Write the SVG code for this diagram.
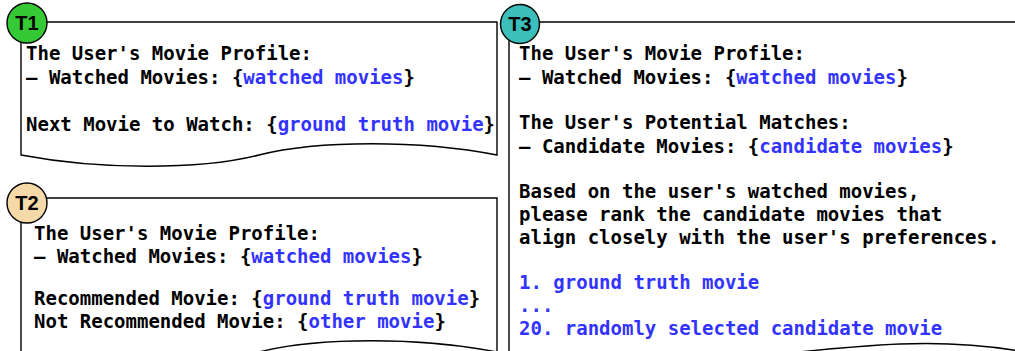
<svg xmlns="http://www.w3.org/2000/svg" width="1015" height="351" viewBox="0 0 1015 351">
<style>
.doc{fill:#fff;stroke:#000;stroke-width:1.4}
.badge{stroke:#000;stroke-width:1.4}
.bl{font-family:"Liberation Sans",Arial,sans-serif;font-weight:bold;font-size:20px;fill:#000}
.t{font-family:"DejaVu Sans Mono",monospace;font-weight:bold;font-size:19px;fill:#000;white-space:pre}
.v{fill:#3333ff}
</style>
<rect width="1015" height="351" fill="#fff"/>
<g id="t1">
<path class="doc" d="M21,22 H497 V155 C420,140 318,140 259,155 C200,170 100,170 21,155 Z"/>
<circle class="badge" cx="27" cy="23" r="20" fill="#35c935"/>
<text class="bl" x="27" y="30" text-anchor="middle">T1</text>
<text class="t" x="26" y="60">The User's Movie Profile:</text>
<text class="t" x="26" y="84">– Watched Movies: {<tspan class="v">watched movies</tspan>}</text>
<text class="t" x="26" y="131">Next Movie to Watch: {<tspan class="v">ground truth movie</tspan>}</text>
</g>
<g id="t2">
<path class="doc" d="M21,198 H497 V352 C420,337 318,337 259,352 C200,367 100,367 21,352 Z"/>
<circle class="badge" cx="27" cy="203" r="20" fill="#f5d9a8"/>
<text class="bl" x="27" y="210" text-anchor="middle">T2</text>
<text class="t" x="34" y="240">The User's Movie Profile:</text>
<text class="t" x="34" y="263">– Watched Movies: {<tspan class="v">watched movies</tspan>}</text>
<text class="t" x="34" y="305">Recommended Movie: {<tspan class="v">ground truth movie</tspan>}</text>
<text class="t" x="34" y="328">Not Recommended Movie: {<tspan class="v">other movie</tspan>}</text>
</g>
<g id="t3">
<path class="doc" d="M509,22 H1045 V356 C1000,346 950,342 900,344 C850,346 800,352 760,356 C700,362 600,366 509,357 Z"/>
<circle class="badge" cx="520" cy="24" r="19.5" fill="#3cbfbb"/>
<text class="bl" x="520" y="31" text-anchor="middle">T3</text>
<text class="t" x="519" y="60">The User's Movie Profile:</text>
<text class="t" x="519" y="84">– Watched Movies: {<tspan class="v">watched movies</tspan>}</text>
<text class="t" x="519" y="129">The User's Potential Matches:</text>
<text class="t" x="519" y="153">– Candidate Movies: {<tspan class="v">candidate movies</tspan>}</text>
<text class="t" x="519" y="198">Based on the user's watched movies,</text>
<text class="t" x="519" y="221">please rank the candidate movies that</text>
<text class="t" x="519" y="244">align closely with the user's preferences.</text>
<text class="t v" x="519" y="289">1. ground truth movie</text>
<text class="t v" x="519" y="312">...</text>
<text class="t v" x="519" y="335">20. randomly selected candidate movie</text>
</g>
<g id="connectors"/>
</svg>
